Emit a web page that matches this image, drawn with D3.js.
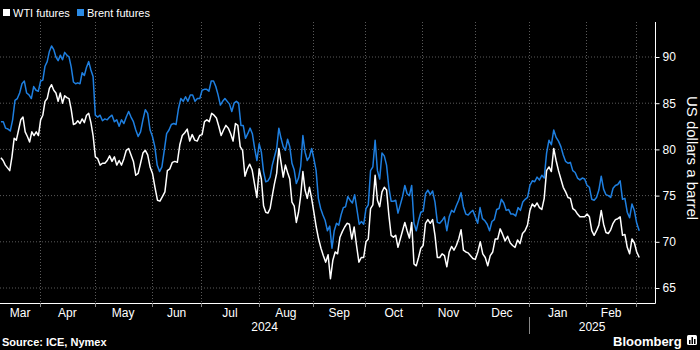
<!DOCTYPE html>
<html><head><meta charset="utf-8">
<script src="https://cdn.jsdelivr.net/npm/d3@7"></script>
<style>html,body{margin:0;padding:0;background:#000;} svg{display:block;font-family:"Liberation Sans",Arial,sans-serif;}</style>
</head><body><svg id="c" width="700" height="350"></svg>
<script>
// ---- data ----
const months = ["2024-03","2024-04","2024-05","2024-06","2024-07","2024-08","2024-09","2024-10","2024-11","2024-12","2025-01","2025-02","2025-03"];
const monthLabels = ["Mar","Apr","May","Jun","Jul","Aug","Sep","Oct","Nov","Dec","Jan","Feb",""];
const yearLabels = ["2024","2025"];
const yTicks = [65,70,75,80,85,90];
const seriesNames = ["WTI futures","Brent futures"];
const seriesColors = ["#ffffff","#1e7fe0"];
const firstDate = "2024-03-08", lastDate = "2025-03-04";

// values per month (USD/bbl)
const wti = [
 [79.1,78.8,78.3,78.0,77.7,79.2,81.2,81.0,82.1,83.2,83.5,81.9,81.4,80.8,81.9,81.5,81.9,81.5],
 [83.2,83.7,85.2,85.5,86.6,87.0,86.4,86.1,85.2,86.1,85.0,85.8,85.6,85.5,84.3,82.7,82.8,83.1,82.8,83.3,82.9,83.7,83.9,82.9,81.5],
 [79.2,79.0,78.3,78.5,78.5,78.8,79.3,78.7,79.2,78.3,78.8,78.3,79.0,79.9,80.1,79.4,78.7,77.2,77.4,78.5,79.6,79.9,79.4,78.1],
 [77.4,75.9,74.5,74.4,74.9,75.4,77.7,77.9,78.6,78.7,78.6,80.5,81.5,81.8,82.2,80.9,81.6,81.0,80.9,81.5],
 [81.6,83.0,83.2,83.0,83.9,83.7,83.4,82.5,81.5,82.1,82.6,82.3,81.7,80.9,82.8,82.6,80.3,79.9,77.1,77.9,78.4,77.8,76.3,74.8],
 [77.9,76.8,73.9,73.2,73.1,73.6,75.0,76.3,77.4,80.1,78.6,77.0,78.3,77.5,76.8,74.3,73.9,72.1,73.2,75.0,77.6,75.6,74.7,75.9,74.7],
 [73.2,71.6,70.3,69.3,68.5,67.8,68.6,66.0,68.0,68.9,68.7,70.5,71.1,71.6,72.0,71.9,70.3,71.6,69.6,67.8,68.3,68.3],
 [70.0,70.3,73.6,74.0,77.2,74.5,73.8,75.4,75.9,75.6,72.9,70.7,70.5,70.7,69.4,70.3,71.2,72.1,71.2,70.4,72.1,67.6,67.4,68.3,69.3],
 [69.6,72.0,72.4,72.0,72.4,70.7,68.3,68.3,68.7,68.5,67.3,68.9,69.5,69.1,69.6,70.3,71.3,69.1,68.9,68.8,68.5,68.2],
 [68.1,68.9,70.0,68.7,68.3,67.4,68.5,68.9,70.3,70.3,71.4,70.8,70.1,70.6,69.9,69.6,69.4,70.2,69.8,70.9,71.2,71.8],
 [73.4,74.1,73.8,74.2,73.7,73.5,74.7,77.7,78.1,77.6,80.1,78.8,77.7,76.8,75.9,75.4,74.8,74.7,73.6,73.4,73.0,72.7,72.7,72.7],
 [73.0,72.7,71.2,70.7,71.2,71.8,73.4,71.9,71.0,70.9,71.3,72.0,72.4,72.5,72.7,70.7,70.8,69.4,68.7,70.3,69.9],
 [68.9,68.3]
];
const brent = [
 [83.0,83.0,82.3,82.2,82.0,83.2,85.3,85.5,86.1,87.1,87.4,86.1,85.9,85.5,86.8,86.4,86.3],
 [87.4,87.5,89.0,89.5,90.6,91.2,90.8,90.0,89.6,90.2,89.7,90.5,90.2,90.0,88.9,87.3,87.1,87.2,87.1,88.3,88.0,88.9,89.5,88.6,87.9],
 [83.7,83.5,83.7,83.1,83.3,83.2,83.5,83.7,83.0,83.2,82.5,83.2,82.8,83.5,84.1,83.5,83.0,82.1,81.4,81.9,83.2,84.3,83.9,82.1],
 [81.4,80.3,78.3,77.6,78.1,79.9,81.7,82.1,82.7,82.8,82.7,84.4,85.5,85.2,85.7,85.2,85.9,85.9,85.2,85.5,85.5],
 [86.4,86.5,86.5,86.3,87.4,87.4,86.8,85.9,84.8,85.2,85.5,85.2,84.9,84.1,85.0,85.2,85.0,82.6,82.6,81.2,81.7,82.3,81.7,80.1,78.8],
 [80.6,79.7,77.6,76.5,76.6,77.0,78.3,79.2,80.1,82.3,81.2,80.3,79.9,81.1,80.3,78.5,77.8,76.3,76.9,78.2,81.5,79.7,78.8,79.2,80.1],
 [79.0,77.7,74.7,73.6,72.9,72.3,71.2,71.7,69.3,71.2,72.0,71.8,72.9,73.7,73.8,74.9,74.5,74.2,75.1,73.5,71.9,72.2,71.9],
 [73.6,74.0,77.7,78.1,81.0,77.7,76.8,79.6,79.3,78.3,75.9,74.4,74.4,74.5,73.1,74.0,74.9,76.1,75.2,75.0,76.1,72.0,71.2,72.3,73.2],
 [73.3,75.2,75.6,75.1,75.5,74.3,72.1,72.0,72.3,72.7,71.2,72.7,73.4,73.2,73.9,74.5,75.3,73.8,73.0,72.9,73.2,73.4],
 [72.7,72.0,73.7,72.5,72.3,71.9,71.2,72.2,72.4,73.5,73.6,74.6,74.2,73.4,73.5,73.0,73.0,72.8,73.7,73.4,74.3,74.6,74.8],
 [76.1,76.6,76.5,77.0,76.7,77.2,76.9,79.6,81.0,80.5,82.1,81.3,80.9,80.3,79.4,78.7,78.5,78.6,77.7,77.5,76.9,76.7,76.9,76.8],
 [76.1,75.9,74.6,74.5,74.8,75.6,77.1,75.7,75.1,75.0,74.8,75.8,76.1,76.2,76.6,74.6,74.7,73.2,72.6,74.1,73.4],
 [72.0,71.2]
];

// ---- layout ----
const svg = d3.select("#c");
const W = 700, H = 350;
const plot = {left: 0, right: 655, top: 22, bottom: 303};
svg.append("rect").attr("width", W).attr("height", H).attr("fill", "#000");

// trading-day (weekday) index scale
const parse = d3.timeParse("%Y-%m-%d");
const fmtM = d3.timeFormat("%Y-%m");
const days = d3.timeDay.range(parse(firstDate), d3.timeDay.offset(parse(lastDate), 1))
  .filter(d => d.getDay() !== 0 && d.getDay() !== 6);
const monthInfo = months.map(m => {
  const idx = [];
  days.forEach((d, i) => { if (fmtM(d) === m) idx.push(i); });
  return {start: idx[0], count: idx.length};
});
const x = d3.scaleLinear().domain([-0.1, 263.65]).range([plot.left, plot.right]);
const y = d3.scaleLinear().domain([65, 90]).range([288, 57]);

function toPoints(series) {
  const pts = [];
  series.forEach((vals, m) => {
    const {start, count} = monthInfo[m];
    vals.forEach((v, i) => pts.push({t: start + (i + 0.3) * count / vals.length, v}));
  });
  return pts;
}

// grid
const grid = svg.append("g");
grid.selectAll("line.h").data(yTicks).join("line")
  .attr("x1", plot.left).attr("x2", plot.right)
  .attr("y1", d => y(d)).attr("y2", d => y(d))
  .attr("stroke", "#5a5a5a").attr("stroke-width", 1).attr("stroke-dasharray", "1,2");
const boundaries = monthInfo.slice(1).map(m => m.start);
grid.selectAll("line.v").data(boundaries).join("line")
  .attr("x1", d => Math.round(x(d)) + 0.5).attr("x2", d => Math.round(x(d)) + 0.5)
  .attr("y1", plot.top).attr("y2", plot.bottom)
  .attr("stroke", "#5a5a5a").attr("stroke-width", 1).attr("stroke-dasharray", "1,2");

// lines
svg.append("clipPath").attr("id", "clip").append("rect")
  .attr("x", plot.left).attr("y", plot.top).attr("width", plot.right - plot.left).attr("height", plot.bottom - plot.top);
const line = d3.line().x(d => x(d.t)).y(d => y(d.v));
const lines = svg.append("g").attr("clip-path", "url(#clip)");
[brent, wti].forEach((s, k) => {
  lines.append("path").datum(toPoints(s)).attr("d", line)
    .attr("fill", "none").attr("stroke", k === 0 ? seriesColors[1] : seriesColors[0])
    .attr("stroke-width", 1.5).attr("stroke-linejoin", "round");
});

// right axis
const yAxis = d3.axisRight(y).tickValues(yTicks).tickSize(4).tickPadding(3);
const ya = svg.append("g").attr("transform", `translate(${plot.right + 0.5},0)`).call(yAxis);
ya.select(".domain").remove();
ya.selectAll("line").attr("stroke", "#fff");
ya.selectAll("text").attr("fill", "#fff").attr("font-size", 12).attr("font-family", '"Liberation Sans",Arial,sans-serif');
svg.append("line").attr("x1", plot.right + 0.5).attr("x2", plot.right + 0.5)
  .attr("y1", plot.top).attr("y2", plot.bottom + 0.5).attr("stroke", "#fff");
svg.append("text").attr("transform", `translate(692,158) rotate(90)`)
  .attr("text-anchor", "middle").attr("dominant-baseline", "central")
  .attr("fill", "#fff").attr("font-size", 15).text("US dollars a barrel");

// bottom axis
svg.append("line").attr("x1", plot.left).attr("x2", plot.right + 0.5)
  .attr("y1", plot.bottom + 0.5).attr("y2", plot.bottom + 0.5).attr("stroke", "#fff");
svg.selectAll("line.bt").data(boundaries).join("line")
  .attr("x1", d => Math.round(x(d)) + 0.5).attr("x2", d => Math.round(x(d)) + 0.5)
  .attr("y1", plot.bottom).attr("y2", plot.bottom + 4).attr("stroke", "#888");
svg.selectAll("text.m").data(monthInfo.map((m, i) => ({m, i})).filter(d => monthLabels[d.i])).join("text")
  .attr("x", d => x(d.m.start + d.m.count / 2)).attr("y", 316.5)
  .attr("text-anchor", "middle").attr("fill", "#fff").attr("font-size", 12)
  .text(d => monthLabels[d.i]);
const janStart = monthInfo[months.indexOf("2025-01")].start;
svg.append("line").attr("x1", Math.round(x(janStart)) + 0.5).attr("x2", Math.round(x(janStart)) + 0.5)
  .attr("y1", plot.bottom + 14).attr("y2", 334).attr("stroke", "#888");
svg.selectAll("text.yr").data(yearLabels).join("text")
  .attr("x", (d, i) => i === 0 ? (x(-0.1) + x(janStart)) / 2 : (x(janStart) + plot.right) / 2)
  .attr("y", 330.5).attr("text-anchor", "middle").attr("fill", "#fff").attr("font-size", 12)
  .text(d => d);

// legend
const leg = svg.append("g");
const legX = [3, 77];
seriesNames.forEach((n, i) => {
  leg.append("rect").attr("x", legX[i]).attr("y", 9).attr("width", 7).attr("height", 7).attr("fill", i === 0 ? "#fff" : "#2b8be6");
  leg.append("text").attr("x", legX[i] + 10).attr("y", 16.5).attr("fill", "#fff").attr("font-size", 11).text(n);
});

// footer
svg.append("text").attr("x", 2).attr("y", 346).attr("fill", "#fff").attr("font-size", 11)
  .attr("font-weight", "bold").text("Source: ICE, Nymex");
svg.append("text").attr("x", 613).attr("y", 346).attr("fill", "#fff").attr("font-size", 13)
  .attr("font-weight", "bold").text("Bloomberg");
const ic = svg.append("g").attr("transform", "translate(687,335)");
ic.append("rect").attr("width", 10).attr("height", 10).attr("rx", 1.5).attr("fill", "#fff");
[[2,5,1.5,4],[4.5,2,1.5,7],[7,4,1.5,5]].forEach(b =>
  ic.append("rect").attr("x", b[0]).attr("y", b[1]).attr("width", b[2]).attr("height", b[3]).attr("fill", "#000"));
</script></body></html>
